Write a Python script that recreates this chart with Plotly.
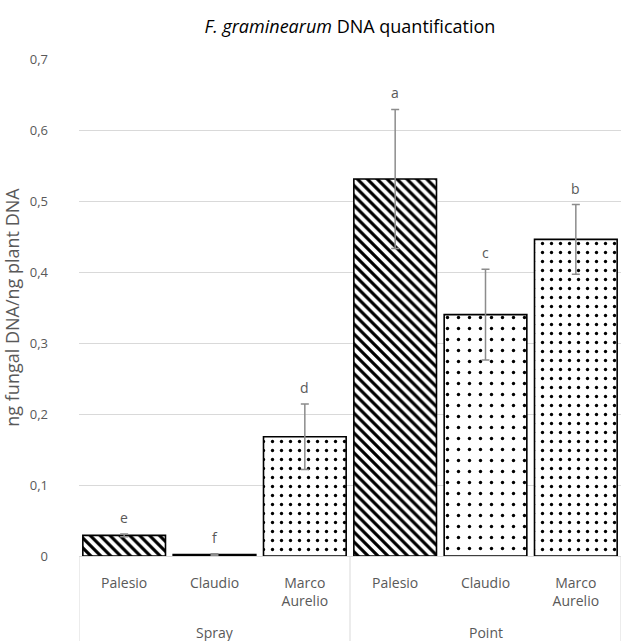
import plotly.graph_objects as go

# Grouped categories: application method and cultivar
methods = ["Spray", "Spray", "Spray", "Point", "Point", "Point"]
cultivars = ["Palesio", "Claudio", "Marco<br>Aurelio", "Palesio", "Claudio", "Marco<br>Aurelio"]
groups = ["Spray", "Point"]

# Fungal DNA relative to plant DNA, with standard deviation
values = [0.029, 0.002, 0.168, 0.531, 0.340, 0.446]
errors = [0.002, 0.001, 0.046, 0.098, 0.064, 0.049]
letters = ["e", "f", "d", "a", "c", "b"]

y_tickvals = [0, 0.1, 0.2, 0.3, 0.4, 0.5, 0.6, 0.7]
y_ticktext = ["0", "0,1", "0,2", "0,3", "0,4", "0,5", "0,6", "0,7"]

# Fill pattern per cultivar: diagonal hatch, sparse dots, dense dots
pattern_shape = {"Palesio": "\\", "Claudio": ".", "Marco<br>Aurelio": "."}
pattern_size = {"Palesio": 7, "Claudio": 11, "Marco<br>Aurelio": 9}
pattern_solid = {"Palesio": 0.45, "Claudio": 0.075, "Marco<br>Aurelio": 0.11}

# unique category keys; the visible text comes from ticktext
keys = [f"{m}|{c}" for m, c in zip(methods, cultivars)]
grey = "#595959"
light = "#d9d9d9"

fig = go.Figure()
fig.add_trace(go.Bar(
    x=keys,
    y=values,
    marker=dict(
        color="white",
        line=dict(color="black", width=1.6),
        pattern=dict(
            shape=[pattern_shape[c] for c in cultivars],
            size=[pattern_size[c] for c in cultivars],
            solidity=[pattern_solid[c] for c in cultivars],
            fgcolor="black",
            fgopacity=1,
            bgcolor="white",
            fillmode="overlay",
        ),
    ),
    error_y=dict(type="data", array=errors, visible=True,
                 color="#8c8c8c", thickness=1.5, width=4),
    showlegend=False,
))

# Significance letters above each error bar
for k, v, e, t in zip(keys, values, errors, letters):
    fig.add_annotation(
        x=k, y=v + e, xref="x", yref="y",
        text=t, showarrow=False,
        yanchor="bottom", yshift=5,
        font=dict(family="Open Sans", size=14, color=grey),
    )

# Group row under the cultivar labels, with divider lines between groups
n_per_group = len(keys) // len(groups)
for gi, g in enumerate(groups):
    mid = gi * n_per_group + (n_per_group - 1) / 2
    fig.add_annotation(
        x=mid, y=-0.153, xref="x", yref="paper",
        text=g, showarrow=False, yanchor="middle",
        font=dict(family="Open Sans", size=14, color=grey),
    )
for b in range(len(groups) + 1):
    xb = b * n_per_group - 0.5
    fig.add_shape(
        type="line", xref="x", yref="paper",
        x0=xb, x1=xb, y0=0, y1=-0.175,
        line=dict(color=light, width=1),
    )

fig.update_layout(
    width=621,
    height=641,
    margin=dict(l=79, r=0, t=59, b=85),
    paper_bgcolor="white",
    plot_bgcolor="white",
    bargap=0.085,
    font=dict(family="Open Sans", color=grey),
    title=dict(
        text="<i>F. graminearum</i> DNA quantification",
        x=0.5, xanchor="center", xref="paper",
        y=0.958, yanchor="middle",
        font=dict(family="Open Sans", size=18, color="black"),
    ),
    yaxis=dict(
        range=[0, 0.7],
        tickvals=y_tickvals,
        ticktext=y_ticktext,
        tickfont=dict(size=13, color=grey),
        showgrid=True,
        gridcolor=light,
        gridwidth=1,
        zeroline=False,
        showline=False,
        ticks="",
        ticklabelstandoff=30,
        title=dict(text="ng fungal DNA/ng plant DNA",
                   font=dict(size=18, color=grey), standoff=10),
        automargin=False,
    ),
    xaxis=dict(
        type="category",
        tickmode="array",
        tickvals=keys,
        ticktext=cultivars,
        tickfont=dict(size=14, color=grey),
        showline=True,
        linecolor=light,
        linewidth=1,
        ticks="",
        ticklabelstandoff=14,
        range=[-0.5, len(keys) - 0.5],
        automargin=False,
    ),
)

fig.write_html("out.html")
